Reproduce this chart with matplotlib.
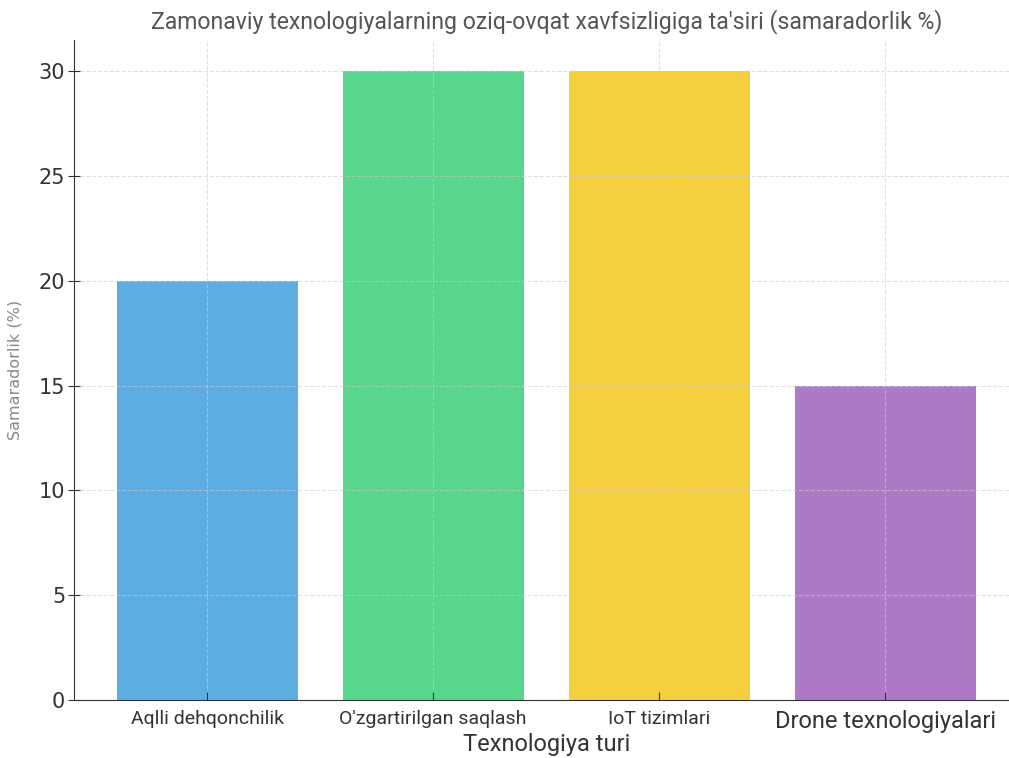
import matplotlib.pyplot as plt

texnologiyalar = ["Aqlli dehqonchilik", "O'zgartirilgan saqlash", "IoT tizimlari", "Drone texnologiyalari"]
samaradorlik = [20, 30, 30, 15]
ranglar = ["#5DADE2", "#58D68D", "#F4D03F", "#AF7AC5"]

shrift = "Roboto"

fig = plt.figure(figsize=(10.09, 7.58), dpi=100)
ax = fig.add_axes([73.7 / 1009, 58 / 758, 945 / 1009, 660 / 758])

ax.bar(texnologiyalar, samaradorlik, color=ranglar, width=0.8, zorder=1)
ax.grid(True, linestyle="--", color="#cccccc", linewidth=0.8, alpha=0.6, zorder=3)
ax.set_axisbelow(False)

ax.set_ylim(0, 31.5)
ax.set_yticks([0, 5, 10, 15, 20, 25, 30])
ax.tick_params(axis="y", labelsize=15, colors="#333333", direction="inout", length=8, pad=2)
ax.tick_params(axis="x", direction="in", length=6, colors="#333333", pad=7)
for lab, fs in zip(ax.get_xticklabels(), [14, 14, 14, 17]):
    lab.set_fontfamily(shrift)
    lab.set_fontsize(fs)
    lab.set_color("#333333")

for s in ["top", "right"]:
    ax.spines[s].set_visible(False)
ax.spines["left"].set_color("#333333")
ax.spines["bottom"].set_color("#333333")

ax.set_title("Zamonaviy texnologiyalarning oziq-ovqat xavfsizligiga ta'siri (samaradorlik %)",
             fontsize=16.6, color="#555555", family=shrift, pad=8)
ax.set_xlabel("Texnologiya turi", fontsize=17, color="#333333", family=shrift, labelpad=0)
ax.set_ylabel("Samaradorlik (%)", fontsize=11.5, color="#888888", labelpad=12)

fig.savefig("out.png", dpi=100)
